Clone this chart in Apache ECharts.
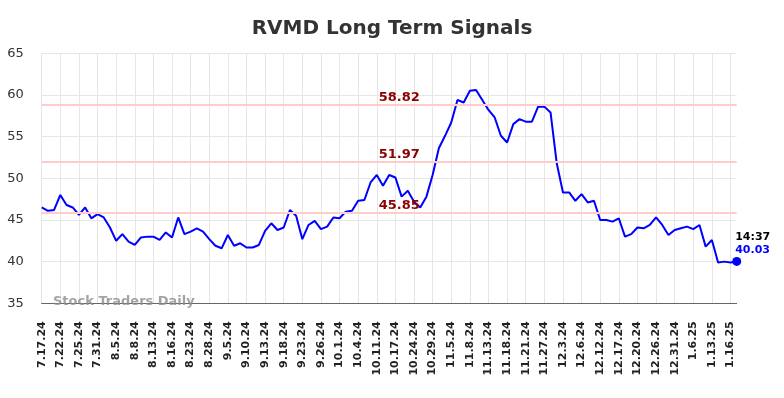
<!DOCTYPE html>
<html>
<head>
<meta charset="UTF-8">
<title>RVMD Long Term Signals</title>
<script src="https://cdn.jsdelivr.net/npm/echarts@6/dist/echarts.min.js"></script>
<style>
	html, body { margin: 0; padding: 0; background: #fff; }
	#main { width: 784px; height: 398px; }
</style>
</head>
<body>
<div id="main"></div>
<script>
// tick labels, one every 3 points
var tickLabels = ['7.17.24','7.22.24','7.25.24','7.31.24','8.5.24','8.8.24','8.13.24','8.16.24',
	'8.23.24','8.28.24','9.5.24','9.10.24','9.13.24','9.18.24','9.23.24','9.26.24','10.1.24',
	'10.4.24','10.11.24','10.17.24','10.24.24','10.29.24','11.5.24','11.8.24','11.13.24',
	'11.18.24','11.21.24','11.27.24','12.3.24','12.6.24','12.12.24','12.17.24','12.20.24',
	'12.26.24','12.31.24','1.6.25','1.13.25','1.16.25'];

// price
var prices = [
	46.5, 46.1, 46.2, 48.0, 46.8, 46.5, 45.6, 46.5, 45.2, 45.7,
	45.3, 44.1, 42.5, 43.3, 42.4, 42.0, 42.9, 43.0, 43.0, 42.6,
	43.5, 42.9, 45.3, 43.3, 43.6, 44.0, 43.6, 42.7, 41.9, 41.6,
	43.2, 41.9, 42.2, 41.7, 41.7, 42.0, 43.7, 44.6, 43.8, 44.1,
	46.2, 45.5, 42.7, 44.4, 44.9, 43.9, 44.2, 45.3, 45.2, 46.0,
	46.1, 47.3, 47.4, 49.5, 50.4, 49.1, 50.4, 50.1, 47.8, 48.5,
	47.2, 46.5, 47.8, 50.4, 53.6, 55.1, 56.7, 59.4, 59.1, 60.5,
	60.6, 59.4, 58.2, 57.3, 55.1, 54.3, 56.5, 57.1, 56.8, 56.8,
	58.6, 58.6, 57.9, 51.8, 48.3, 48.3, 47.3, 48.1, 47.1, 47.3,
	45.0, 45.0, 44.8, 45.2, 43.0, 43.3, 44.1, 44.0, 44.4, 45.3,
	44.4, 43.2, 43.8, 44.0, 44.2, 43.9, 44.4, 41.8, 42.6, 39.9,
	40.0, 39.9, 40.03
];

var signalLevels = [58.82, 51.97, 45.85];
var lastTime = '14:37';

var categories = [];
for (var i = 0; i < prices.length; i++) {
	categories.push(i % 3 === 0 ? (tickLabels[i / 3] || '') : '');
}
var lastIdx = prices.length - 1;
var lastVal = prices[lastIdx];

var chart = echarts.init(document.getElementById('main'));

var option = {
	animation: false,
	title: {
		text: 'RVMD Long Term Signals',
		left: 'center',
		top: 14,
		textStyle: { fontFamily: 'DejaVu Sans', fontSize: 20, fontWeight: 'bold', color: '#333' }
	},
	grid: { left: 41.7, right: 47.3, top: 53.3, bottom: 94.7 },
	xAxis: {
		type: 'category',
		data: categories,
		boundaryGap: false,
		axisLine: { lineStyle: { color: '#666', width: 1 } },
		axisTick: { show: false },
		axisLabel: {
			interval: 2,
			rotate: 90,
			margin: 18,
			fontFamily: 'DejaVu Sans',
			fontWeight: 'bold',
			fontSize: 11,
			color: '#222'
		},
		splitLine: { show: true, interval: 2, lineStyle: { color: '#e6e6e6', width: 1 } }
	},
	yAxis: {
		type: 'value',
		min: 35,
		max: 65,
		interval: 5,
		axisLine: { show: false },
		axisTick: { show: false },
		axisLabel: { fontFamily: 'DejaVu Sans', fontSize: 13, color: '#333', margin: 18 },
		splitLine: { lineStyle: { color: '#e6e6e6', width: 1 } }
	},
	graphic: [{
		type: 'text',
		left: 53,
		top: 295,
		z: 10,
		style: {
			text: 'Stock Traders Daily',
			fontFamily: 'DejaVu Sans',
			fontWeight: 'bold',
			fontSize: 13,
			fill: 'rgba(140,140,140,0.8)'
		}
	}],
	series: [{
		name: 'RVMD',
		type: 'line',
		data: prices,
		symbol: 'none',
		lineStyle: { color: '#0000ff', width: 2 },
		itemStyle: { color: '#0000ff' },
		markLine: {
			silent: true,
			symbol: 'none',
			lineStyle: { color: '#ffcccc', width: 2, type: 'solid' },
			label: {
				position: 'insideMiddleTop',
				distance: 1,
				padding: [0, 0, 0, 20],
				color: '#8b0000',
				fontFamily: 'DejaVu Sans',
				fontWeight: 'bold',
				fontSize: 13,
				formatter: function (p) { return p.value.toFixed(2); }
			},
			data: signalLevels.map(function (v) { return { yAxis: v }; })
		},
		markPoint: {
			silent: true,
			symbol: 'circle',
			symbolSize: 9,
			itemStyle: { color: '#0000ff' },
			label: {
				show: true,
				position: [3, -26],
				align: 'left',
				verticalAlign: 'top',
				formatter: '{t|' + lastTime + '}\n{v|' + lastVal.toFixed(2) + '}',
				rich: {
					t: { color: '#000', fontWeight: 'bold', fontSize: 11, fontFamily: 'DejaVu Sans', lineHeight: 13 },
					v: { color: '#0000ff', fontWeight: 'bold', fontSize: 11, fontFamily: 'DejaVu Sans', lineHeight: 13 }
				}
			},
			data: [{ coord: [lastIdx, lastVal] }]
		}
	}]
};

chart.setOption(option);
</script>
</body>
</html>
